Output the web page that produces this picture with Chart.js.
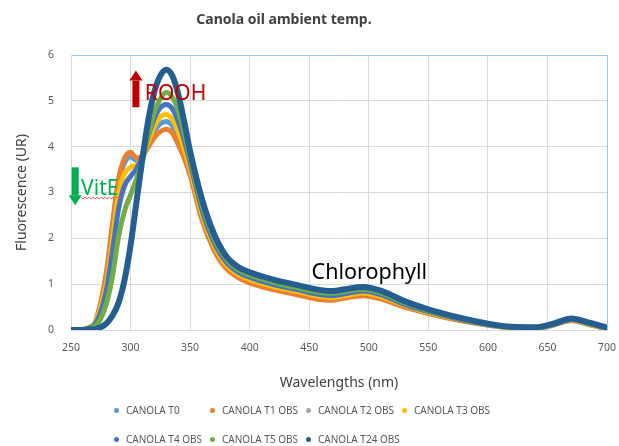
<!DOCTYPE html>
<html>
<head>
<meta charset="utf-8">
<script src="https://cdn.jsdelivr.net/npm/chart.js@4.4.0/dist/chart.umd.min.js"></script>
<style>
  body { margin: 0; background: #fff; }
  #wrap { position: relative; width: 619px; height: 446px; background: #fff; font-family: "Noto Sans", sans-serif; }
  #title { position: absolute; top: 9px; left: 184px; width: 200px; text-align: center; font-size: 14px; font-weight: bold; color: #404040; white-space: nowrap; }
  #legend { position: absolute; left: 114px; top: 401px; display: grid; grid-template-columns: repeat(4, 96px); row-gap: 11px; font-size: 10px; color: #595959; }
  #legend span.item { display: flex; align-items: center; white-space: nowrap; height: 18px; }
  #legend i { display: inline-block; width: 5px; height: 5px; border-radius: 50%; margin-right: 7px; }
</style>
</head>
<body>
<div id="wrap">
  <canvas id="chart" width="619" height="446"></canvas>
  <div id="title">Canola oil ambient temp.</div>
  <div id="legend"></div>
</div>
<script>
const wavelengths = [250, 260, 265, 270, 275, 280, 285, 290, 295, 300, 305, 310, 315, 320, 325, 330, 335, 340, 345, 350,
  360, 370, 380, 390, 400, 420, 440, 460, 470, 480, 495, 510, 530, 550, 570, 600, 620, 640, 655, 670, 685, 700];

const seriesLabels = ['CANOLA T0', 'CANOLA T1 OBS', 'CANOLA T2 OBS', 'CANOLA T3 OBS', 'CANOLA T4 OBS', 'CANOLA T5 OBS', 'CANOLA T24 OBS'];
const seriesColors = ['#5B9BD5', '#ED7D31', '#A5A5A5', '#FFC000', '#4472C4', '#70AD47', '#255E91'];

const t0 = [0, 0.01, 0.05, 0.15, 0.58, 1.25, 2.3, 3.22, 3.65, 3.78, 3.7, 3.8, 4.08, 4.35, 4.5, 4.55, 4.46, 4.2, 3.85, 3.45,
  2.45, 1.8, 1.39, 1.18, 1.06, 0.91, 0.8, 0.69, 0.68, 0.72, 0.78, 0.7, 0.52, 0.37, 0.25, 0.11, 0.05, 0.04, 0.11, 0.21, 0.12, 0.03];
const t1 = [0, 0.01, 0.05, 0.15, 0.6, 1.3, 2.35, 3.3, 3.75, 3.88, 3.75, 3.8, 4.0, 4.2, 4.33, 4.38, 4.3, 4.05, 3.75, 3.38,
  2.4, 1.75, 1.35, 1.15, 1.03, 0.88, 0.77, 0.66, 0.65, 0.7, 0.75, 0.68, 0.5, 0.36, 0.24, 0.11, 0.05, 0.04, 0.11, 0.21, 0.12, 0.03];
const t2 = [];
const t3 = [0, 0.01, 0.05, 0.14, 0.5, 1.05, 2.0, 3.0, 3.42, 3.55, 3.6, 3.78, 4.12, 4.45, 4.65, 4.7, 4.6, 4.33, 3.95, 3.52,
  2.52, 1.85, 1.43, 1.22, 1.1, 0.95, 0.84, 0.73, 0.71, 0.75, 0.81, 0.73, 0.54, 0.38, 0.26, 0.12, 0.05, 0.045, 0.12, 0.22, 0.13, 0.035];
const t4 = [0, 0.01, 0.04, 0.12, 0.4, 0.9, 1.75, 2.65, 3.15, 3.35, 3.52, 3.8, 4.25, 4.62, 4.85, 4.92, 4.83, 4.55, 4.15, 3.65,
  2.62, 1.92, 1.49, 1.27, 1.15, 0.99, 0.88, 0.77, 0.75, 0.79, 0.85, 0.77, 0.56, 0.4, 0.27, 0.12, 0.06, 0.05, 0.12, 0.23, 0.14, 0.04];
const t5 = [0, 0.01, 0.03, 0.08, 0.25, 0.6, 1.2, 2.05, 2.6, 2.95, 3.3, 3.7, 4.25, 4.75, 5.05, 5.18, 5.08, 4.78, 4.3, 3.75,
  2.72, 2.0, 1.55, 1.32, 1.2, 1.04, 0.92, 0.82, 0.8, 0.84, 0.89, 0.81, 0.59, 0.42, 0.29, 0.13, 0.06, 0.05, 0.13, 0.24, 0.15, 0.04];
const t24 = [0, 0, 0.01, 0.02, 0.06, 0.15, 0.32, 0.6, 1.1, 1.85, 2.8, 3.75, 4.6, 5.2, 5.55, 5.68, 5.55, 5.15, 4.55, 3.9,
  2.85, 2.1, 1.62, 1.38, 1.26, 1.1, 0.98, 0.87, 0.85, 0.89, 0.94, 0.86, 0.63, 0.45, 0.31, 0.14, 0.07, 0.06, 0.14, 0.25, 0.16, 0.05];

const allSeries = [t0, t1, t2, t3, t4, t5, t24];

const datasets = allSeries.map((vals, i) => ({
  label: seriesLabels[i],
  data: vals.map((v, k) => ({ x: wavelengths[k], y: v })),
  borderColor: seriesColors[i],
  backgroundColor: seriesColors[i],
  borderWidth: i === 6 ? 6 : 5,
  pointRadius: 0,
  cubicInterpolationMode: 'monotone',
  borderCapStyle: 'round',
  borderJoinStyle: 'round',
  // later series on top, like the spreadsheet
  order: allSeries.length - i
}));

// text notes and arrows, placed in data units
const notes = {
  id: 'notes',
  afterDatasetsDraw(chart) {
    const { ctx, scales: { x, y } } = chart;
    ctx.save();

    function arrow(xv, fromV, toV, color) {
      const px = x.getPixelForValue(xv);
      const y0 = y.getPixelForValue(fromV);
      const y1 = y.getPixelForValue(toV);
      const dir = y1 < y0 ? 1 : -1;
      const head = 10;
      ctx.fillStyle = color;
      ctx.fillRect(px - 3.5, Math.min(y0, y1 + dir * head), 7, Math.abs(y0 - y1) - head);
      ctx.beginPath();
      ctx.moveTo(px - 6.5, y1 + dir * head);
      ctx.lineTo(px + 6.5, y1 + dir * head);
      ctx.lineTo(px, y1);
      ctx.closePath();
      ctx.fill();
    }

    arrow(304.5, 4.86, 5.66, '#C00000');
    arrow(253.5, 3.55, 2.72, '#00B050');

    ctx.font = '21px "Noto Sans"';
    ctx.textBaseline = 'alphabetic';
    ctx.fillStyle = '#C00000';
    ctx.fillText('ROOH', x.getPixelForValue(312), y.getPixelForValue(5.01));
    ctx.fillStyle = '#00B050';
    const vx = x.getPixelForValue(258.5), vy = y.getPixelForValue(2.94);
    ctx.fillText('VitE', vx, vy);
    ctx.fillStyle = '#000000';
    ctx.font = '21.5px "Noto Sans"';
    ctx.fillText('Chlorophyll', x.getPixelForValue(452), y.getPixelForValue(1.11));

    // spell-check squiggle under VitE
    ctx.strokeStyle = '#E06060';
    ctx.lineWidth = 1;
    ctx.beginPath();
    for (let k = 0; k <= 40; k += 2) {
      const yy = vy + 2 + (k % 4 === 0 ? 0 : 1.5);
      if (k === 0) ctx.moveTo(vx + k, yy); else ctx.lineTo(vx + k, yy);
    }
    ctx.stroke();
    ctx.restore();
  }
};

Chart.defaults.font.family = '"Noto Sans", sans-serif';
Chart.defaults.color = '#595959';

new Chart(document.getElementById('chart').getContext('2d'), {
  type: 'line',
  data: { datasets },
  options: {
    responsive: false,
    animation: false,
    layout: { padding: { top: 55, right: 12, bottom: 48, left: 0 } },
    plugins: { legend: { display: false }, title: { display: false }, tooltip: { enabled: false } },
    scales: {
      x: {
        type: 'linear',
        min: 250,
        max: 700,
        ticks: { stepSize: 50, font: { size: 10.5 }, padding: 12, maxRotation: 0 },
        grid: {
          drawTicks: false,
          color: c => (c.tick && c.tick.value === 700 ? '#9DC3E6' : '#D9D9D9')
        },
        border: { color: '#D9D9D9' },
        title: { display: true, text: 'Wavelengths (nm)', color: '#404040', font: { size: 14 }, padding: { top: 4, bottom: 7 } },
        afterFit: s => { s.height = 68; s.paddingLeft = 0; s.paddingRight = 0; }
      },
      y: {
        min: 0,
        max: 6,
        ticks: { stepSize: 1, font: { size: 10.5 }, padding: 17 },
        grid: {
          drawTicks: false,
          color: c => (c.tick && c.tick.value === 6 ? '#9DC3E6' : '#D9D9D9')
        },
        border: { color: '#D9D9D9' },
        title: { display: true, text: 'Fluorescence (UR)', color: '#404040', font: { size: 14 }, padding: { top: 14, bottom: 4 } },
        afterFit: s => { s.width = 71; s.paddingTop = 0; s.paddingBottom = 0; }
      }
    }
  },
  plugins: [notes]
});

// legend laid out in columns like the original
const legendBox = document.getElementById('legend');
seriesLabels.forEach((lab, i) => {
  const item = document.createElement('span');
  item.className = 'item';
  item.innerHTML = '<i style="background:' + seriesColors[i] + '"></i>' + lab;
  legendBox.appendChild(item);
});
</script>
</body>
</html>
